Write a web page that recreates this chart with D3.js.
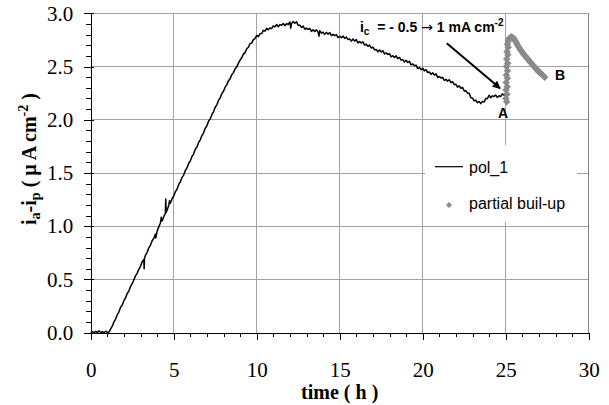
<!DOCTYPE html>
<html>
<head>
<meta charset="utf-8">
<script src="https://cdn.jsdelivr.net/npm/d3@7"></script>
<style>
  body { margin: 0; background: #fff; }
  svg { display: block; }
  text { white-space: pre; }
</style>
</head>
<body>
<svg id="chart"></svg>
<script>

// DATA

const xTicks = [0, 5, 10, 15, 20, 25, 30];
const yTicks = [0, 0.5, 1.0, 1.5, 2.0, 2.5, 3.0];
const legendLabels = ["pol_1", "partial buil-up"];
const xTitle = "time ( h )";

// pol_1 : [time (h), ia-ip (uA cm-2)]
const pol1 = [
  [0.0,0.000],[0.1,0.010],[0.2,0.000],[0.3,0.012],[0.4,0.002],[0.5,0.018],[0.6,0.000],[0.7,0.011],[0.8,0.001],[0.9,0.014],
  [1.0,0.004],[1.1,0.005],[1.2,0.035],[1.3,0.062],[1.4,0.101],[1.5,0.128],[1.6,0.168],[1.7,0.196],[1.8,0.238],[1.9,0.260],
  [2.0,0.301],[2.1,0.327],[2.2,0.368],[2.3,0.391],[2.4,0.435],[2.5,0.460],[2.6,0.497],[2.7,0.534],[2.8,0.557],[2.9,0.596],
  [3.0,0.624],[3.1,0.666],[3.2,0.687],[3.22,0.600],[3.24,0.700],[3.3,0.728],[3.4,0.755],[3.5,0.797],[3.6,0.822],[3.7,0.864],
  [3.8,0.886],[3.9,0.926],[3.92,0.890],[4.0,0.953],[4.1,0.994],[4.2,1.030],[4.25,1.085],[4.3,1.050],[4.4,1.090],[4.5,1.120],
  [4.52,1.255],[4.55,1.130],[4.6,1.150],[4.7,1.195],[4.75,1.240],[4.8,1.215],[4.9,1.258],[5.0,1.282],[5.1,1.324],[5.2,1.348],
  [5.3,1.392],[5.4,1.416],[5.5,1.457],[5.6,1.480],[5.7,1.523],[5.8,1.548],[5.9,1.590],[6.0,1.613],[6.1,1.655],[6.2,1.678],
  [6.3,1.722],[6.4,1.744],[6.5,1.787],[6.6,1.812],[6.7,1.852],[6.8,1.877],[6.9,1.920],[7.0,1.943],[7.1,1.986],[7.2,2.008],
  [7.3,2.050],[7.4,2.075],[7.5,2.118],[7.6,2.140],[7.7,2.183],[7.8,2.206],[7.9,2.246],[8.0,2.268],[8.1,2.306],[8.2,2.328],
  [8.3,2.366],[8.4,2.386],[8.5,2.424],[8.6,2.443],[8.7,2.480],[8.8,2.497],[8.9,2.532],
  [9.0,2.561],[9.1,2.583],[9.2,2.617],[9.3,2.631],[9.4,2.667],[9.5,2.681],[9.6,2.716],[9.7,2.720],[9.8,2.753],[9.9,2.763],
  [10.0,2.792],[10.1,2.781],[10.2,2.809],[10.3,2.810],[10.4,2.840],[10.5,2.832],[10.6,2.859],[10.7,2.846],[10.8,2.862],[10.9,2.856],
  [11.0,2.881],[11.1,2.872],[11.2,2.895],[11.3,2.874],[11.4,2.894],[11.5,2.888],[11.6,2.904],[11.7,2.883],[11.8,2.903],[11.9,2.895],
  [12.0,2.919],[12.05,2.860],[12.1,2.903],[12.2,2.923],[12.3,2.906],[12.4,2.920],[12.5,2.886],[12.6,2.889],[12.7,2.866],[12.8,2.880],
  [12.9,2.850],[13.0,2.861],[13.1,2.848],[13.2,2.858],[13.3,2.830],[13.4,2.844],[13.5,2.829],[13.6,2.846],[13.7,2.823],[13.75,2.785],
  [13.8,2.837],[13.9,2.814],[14.0,2.823],[14.1,2.802],[14.2,2.821],[14.3,2.804],[14.4,2.819],[14.5,2.790],[14.6,2.802],[14.7,2.790],
  [14.8,2.799],[14.9,2.771],[15.0,2.784],[15.1,2.770],[15.2,2.787],[15.3,2.764],[15.4,2.777],[15.5,2.753],[15.6,2.760],[15.7,2.739],
  [15.8,2.759],[15.9,2.740],[16.0,2.753],[16.1,2.722],[16.2,2.734],[16.3,2.722],[16.4,2.731],[16.5,2.702],[16.6,2.710],[16.7,2.690],
  [16.8,2.702],[16.9,2.674],[17.0,2.682],[17.1,2.656],[17.2,2.661],[17.3,2.638],[17.4,2.655],[17.5,2.636],[17.6,2.649],[17.7,2.618],
  [17.8,2.628],[17.9,2.614],[18.0,2.621],[18.1,2.591],[18.2,2.602],[18.3,2.585],[18.4,2.600],[18.5,2.575],[18.6,2.586],[18.7,2.560],
  [18.8,2.565],[18.9,2.542],[19.0,2.559],[19.1,2.538],[19.2,2.549],[19.3,2.516],[19.4,2.524],[19.5,2.508],[19.6,2.513],[19.7,2.481],
  [19.8,2.490],[19.9,2.471],[20.0,2.484],[20.1,2.459],[20.2,2.470],[20.3,2.444],[20.4,2.449],[20.5,2.426],[20.6,2.441],[20.7,2.420],
  [20.8,2.431],[20.9,2.398],[21.0,2.406],[21.1,2.392],[21.2,2.399],[21.3,2.369],[21.4,2.380],[21.5,2.363],[21.6,2.376],[21.7,2.349],
  [21.8,2.358],[21.9,2.330],[22.0,2.333],[22.1,2.306],[22.2,2.319],[22.3,2.296],[22.4,2.305],[22.5,2.270],[22.6,2.272],[22.7,2.250],
  [22.8,2.249],[22.9,2.206],[23.0,2.204],[23.1,2.178],[23.2,2.184],[23.3,2.160],[23.4,2.172],[23.5,2.152],[23.6,2.173],[23.7,2.166],
  [23.8,2.199],[23.9,2.199],[24.0,2.230],[24.1,2.207],[24.2,2.225],[24.3,2.218],[24.4,2.232],[24.5,2.209],[24.6,2.226],[24.7,2.218],
  [24.8,2.244],[24.9,2.230],[25.0,2.252]
];

// partial buil-up : [time (h), ia-ip (uA cm-2)]
const buildUp = [
  [25.06,2.17],[25.01,2.20],[25.08,2.24],[25.02,2.28],[25.09,2.31],[25.03,2.35],[25.10,2.39],[25.04,2.42],[25.11,2.46],[25.05,2.50],
  [25.12,2.53],[25.06,2.57],[25.13,2.61],[25.08,2.64],[25.15,2.68],[25.10,2.71],[25.16,2.74],[25.20,2.76],[25.27,2.77],[25.35,2.78],
  [25.42,2.77],[25.50,2.76],[25.58,2.74],[25.65,2.72],[25.72,2.70],[25.80,2.68],[25.87,2.66],[25.95,2.645],[26.02,2.63],[26.10,2.61],
  [26.18,2.60],[26.25,2.585],[26.33,2.57],[26.40,2.56],[26.48,2.54],[26.55,2.53],[26.63,2.515],[26.70,2.50],[26.78,2.49],[26.85,2.475],
  [26.93,2.46],[27.00,2.45],[27.08,2.44],[27.15,2.43],[27.22,2.42],[27.35,2.40]
];

// annotation anchors, in data units
const arrowFrom = [21.45, 2.718];
const arrowTo = [24.66, 2.295];
const noteAt = [16.22, 2.824];
const labelA = [24.84, 2.017];
const labelB = [27.97, 2.373];


// SETUP

const width = 609, height = 405;
const margin = { top: 13.3, right: 20.3, bottom: 72.3, left: 90.7 };
const serif = "Liberation Serif";
const sans = "Liberation Sans";
const gridColor = "#a3a3a3";
const markColor = "#8a8a8a";

const svg = d3.select("#chart")
  .attr("width", width)
  .attr("height", height);

const x = d3.scaleLinear()
  .domain([0, 30])
  .range([margin.left, width - margin.right]);

const y = d3.scaleLinear()
  .domain([0, 3])
  .range([height - margin.bottom, margin.top]);

// + GRIDLINES
svg.append("g")
  .selectAll("line")
  .data(xTicks.filter(d => d > 0 && d < 30))
  .join("line")
  .attr("x1", d => x(d)).attr("x2", d => x(d))
  .attr("y1", y(0)).attr("y2", y(3))
  .attr("stroke", gridColor)
  .attr("shape-rendering", "crispEdges");

svg.append("g")
  .selectAll("line")
  .data(yTicks.filter(d => d > 0))
  .join("line")
  .attr("x1", x(0)).attr("x2", x(30))
  .attr("y1", d => y(d)).attr("y2", d => y(d))
  .attr("stroke", gridColor)
  .attr("shape-rendering", "crispEdges");

// right edge of plot area
svg.append("line")
  .attr("x1", x(30)).attr("x2", x(30))
  .attr("y1", y(0)).attr("y2", y(3))
  .attr("stroke", "#808080")
  .attr("stroke-width", 1.5)
  .attr("shape-rendering", "crispEdges");

// + LEGEND (white box over the grid)
const legend = svg.append("g");
legend.append("rect")
  .attr("x", 425).attr("y", 145)
  .attr("width", 152).attr("height", 77)
  .attr("fill", "#fff");

legend.append("line")
  .attr("x1", 435).attr("x2", 463)
  .attr("y1", 166.7).attr("y2", 166.7)
  .attr("stroke", "#000")
  .attr("stroke-width", 1.2);

legend.append("path")
  .attr("d", d3.symbol(d3.symbolSquare, 18)())
  .attr("transform", "translate(449,205) rotate(45)")
  .attr("fill", markColor);

legend.selectAll("text")
  .data(legendLabels)
  .join("text")
  .attr("x", 469)
  .attr("y", (d, i) => i === 0 ? 172.5 : 208.5)
  .attr("font-family", sans)
  .attr("font-size", 16)
  .attr("fill", "#000")
  .text(d => d);

// + AXES
function styleAxis(g) {
  g.attr("font-family", serif).attr("font-size", 21);
  g.selectAll("line").attr("stroke", "#000").attr("shape-rendering", "crispEdges");
  g.selectAll("path").attr("stroke", "#000").attr("shape-rendering", "crispEdges");
  g.selectAll("text")
    .attr("fill", "#000")
    .attr("font-family", serif)
    .attr("font-size", 21);
}

const xAxisG = svg.append("g")
  .attr("transform", `translate(0, ${y(0)})`);

xAxisG.append("g")
  .call(d3.axisBottom(x).tickValues(d3.range(0, 31, 1)).tickSize(4).tickSizeOuter(0).tickFormat(""))
  .call(styleAxis);
xAxisG.append("g")
  .call(d3.axisBottom(x).tickValues(xTicks).tickSize(7).tickSizeOuter(0).tickPadding(22).tickFormat(d3.format("d")))
  .call(styleAxis);

const yAxisG = svg.append("g")
  .attr("transform", `translate(${x(0)}, 0)`);

yAxisG.append("g")
  .call(d3.axisLeft(y).tickValues(d3.range(0, 31, 1).map(d => d / 10)).tickSize(5).tickSizeOuter(0).tickFormat(""))
  .call(styleAxis);
yAxisG.append("g")
  .call(d3.axisLeft(y).tickValues(yTicks).tickSize(7).tickSizeOuter(0).tickPadding(10.5).tickFormat(d3.format(".1f")))
  .call(styleAxis);
yAxisG.append("g")
  .call(d3.axisLeft(y).tickValues(yTicks).tickSize(-3).tickSizeOuter(0).tickFormat(""))
  .call(styleAxis)
  .select(".domain").remove();

// + AXIS TITLES
svg.append("text")
  .attr("x", x(15))
  .attr("y", 399)
  .attr("text-anchor", "middle")
  .attr("font-family", serif)
  .attr("font-size", 20)
  .attr("font-weight", "bold")
  .text(xTitle);

const yTitle = svg.append("text")
  .attr("transform", "translate(35.5, 159) rotate(-90)")
  .attr("text-anchor", "middle")
  .attr("font-family", serif)
  .attr("font-size", 20)
  .attr("font-weight", "bold");
yTitle.append("tspan").text("i");
yTitle.append("tspan").attr("font-size", 14).attr("dy", 4).text("a");
yTitle.append("tspan").attr("dy", -4).text("-i");
yTitle.append("tspan").attr("font-size", 14).attr("dy", 4).text("p");
yTitle.append("tspan").attr("dy", -4).text(" ( \u00b5 A cm");
yTitle.append("tspan").attr("font-size", 14).attr("dy", -8).text("-2");
yTitle.append("tspan").attr("dy", 8).text(" )");

// + DATA: pol_1 line
const lineGen = d3.line()
  .x(d => x(d[0]))
  .y(d => y(d[1]));

svg.append("path")
  .datum(pol1)
  .attr("fill", "none")
  .attr("stroke", "#000")
  .attr("stroke-width", 1.5)
  .attr("stroke-linejoin", "round")
  .attr("d", lineGen);

// + DATA: partial build-up markers
svg.append("g")
  .selectAll("path")
  .data(buildUp)
  .join("path")
  .attr("d", d3.symbol(d3.symbolSquare, 28)())
  .attr("transform", d => `translate(${x(d[0])},${y(d[1])}) rotate(45)`)
  .attr("fill", markColor);

// + ANNOTATIONS
svg.append("defs").append("marker")
  .attr("id", "arrowhead")
  .attr("viewBox", "0 0 10 10")
  .attr("refX", 9).attr("refY", 5)
  .attr("markerWidth", 4.5).attr("markerHeight", 4)
  .attr("orient", "auto")
  .append("path")
  .attr("d", "M0,0 L10,5 L0,10 Z")
  .attr("fill", "#000");

svg.append("line")
  .attr("x1", x(arrowFrom[0])).attr("y1", y(arrowFrom[1]))
  .attr("x2", x(arrowTo[0])).attr("y2", y(arrowTo[1]))
  .attr("stroke", "#000")
  .attr("stroke-width", 2)
  .attr("marker-end", "url(#arrowhead)");

const note = svg.append("text")
  .attr("x", x(noteAt[0]))
  .attr("y", y(noteAt[1]))
  .attr("font-family", sans)
  .attr("font-size", 14)
  .attr("font-weight", "bold")
  .attr("fill", "#000");
note.append("tspan").text("i");
note.append("tspan").attr("font-size", 10).attr("dy", 3).text("c");
note.append("tspan").attr("dy", -3).text("  = - 0.5 ");
note.append("tspan").attr("font-family", "DejaVu Sans").attr("font-weight", "normal").text("\u2192");
note.append("tspan").text(" 1 mA cm");
note.append("tspan").attr("font-size", 10).attr("dy", -6).text("-2");

svg.append("text")
  .attr("x", x(labelA[0]))
  .attr("y", y(labelA[1]))
  .attr("text-anchor", "middle")
  .attr("font-family", sans)
  .attr("font-size", 14)
  .attr("font-weight", "bold")
  .text("A");

svg.append("text")
  .attr("x", x(labelB[0]))
  .attr("y", y(labelB[1]))
  .attr("font-family", sans)
  .attr("font-size", 14)
  .attr("font-weight", "bold")
  .text("B");

</script>
</body>
</html>
